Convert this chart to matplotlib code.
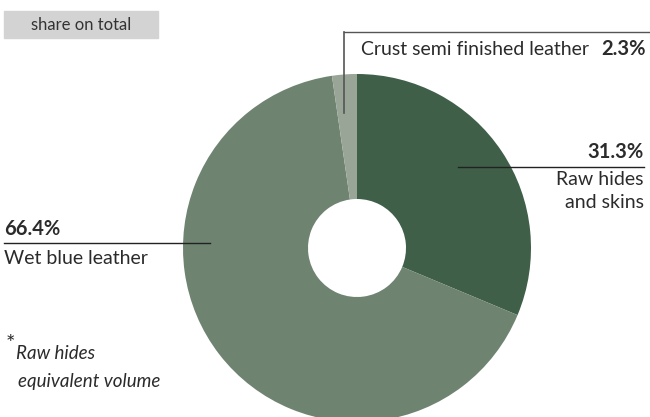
import matplotlib.pyplot as plt

plt.rcParams['font.family'] = ['Lato', 'DejaVu Sans']

labels = ["Raw hides\nand skins", "Wet blue leather", "Crust semi finished leather"]
shares = [31.3, 66.4, 2.3]
colors = ["#3f5f49", "#6e8370", "#98a597"]

W, H = 650, 417
fig = plt.figure(figsize=(6.5, 4.17), dpi=100)
ax = fig.add_axes([0, 0, 1, 1])

cx, cy, r, hole = 357, H - 248, 174, 49
ax.pie(shares, colors=colors, startangle=90, counterclock=False,
       center=(cx, cy), radius=r, frame=True,
       wedgeprops=dict(width=r - hole, linewidth=0))
ax.set_xlim(0, W)
ax.set_ylim(0, H)
ax.set_aspect("equal")
ax.axis("off")

txt = "#2b2b2b"
fs = 14

# header box
ax.add_patch(plt.Rectangle((4, H - 38), 154, 27, color="#d3d3d3", zorder=0))
ax.text(81, H - 24.5, "share on total", ha="center", va="center", fontsize=12, color="#333333")

# crust label
ax.plot([344, 650], [H - 32, H - 32], color="#555555", lw=1)
ax.plot([344, 344], [H - 32, H - 113], color="#555555", lw=1.2)
ax.text(589, H - 55, labels[2], ha="right", va="baseline", fontsize=fs, color=txt)
ax.text(646, H - 55, f"{shares[2]}%", ha="right", va="baseline", fontsize=14.5,
        fontweight="bold", color=txt)

# raw hides label
ax.plot([458, 644], [H - 167, H - 167], color="#222222", lw=1)
ax.text(644, H - 158, f"{shares[0]}%", ha="right", va="baseline", fontsize=14.5,
        fontweight="bold", color=txt)
ax.text(644, H - 185, "Raw hides", ha="right", va="baseline", fontsize=fs, color=txt)
ax.text(644, H - 208, "and skins", ha="right", va="baseline", fontsize=fs, color=txt)

# wet blue label
ax.plot([4, 210], [H - 243, H - 243], color="#222222", lw=1)
ax.text(4, H - 235, f"{shares[1]}%", ha="left", va="baseline", fontsize=14.5,
        fontweight="bold", color=txt)
ax.text(4, H - 264, labels[1], ha="left", va="baseline", fontsize=fs, color=txt)

# footnote
ax.text(6, H - 350, "*", ha="left", va="baseline", fontsize=16, color=txt)
ax.text(16, H - 359, "Raw hides", ha="left", va="baseline", fontsize=13.5,
        style="italic", color=txt)
ax.text(18, H - 387, "equivalent volume", ha="left", va="baseline", fontsize=13.5,
        style="italic", color=txt)

fig.savefig("out.png", dpi=100)
